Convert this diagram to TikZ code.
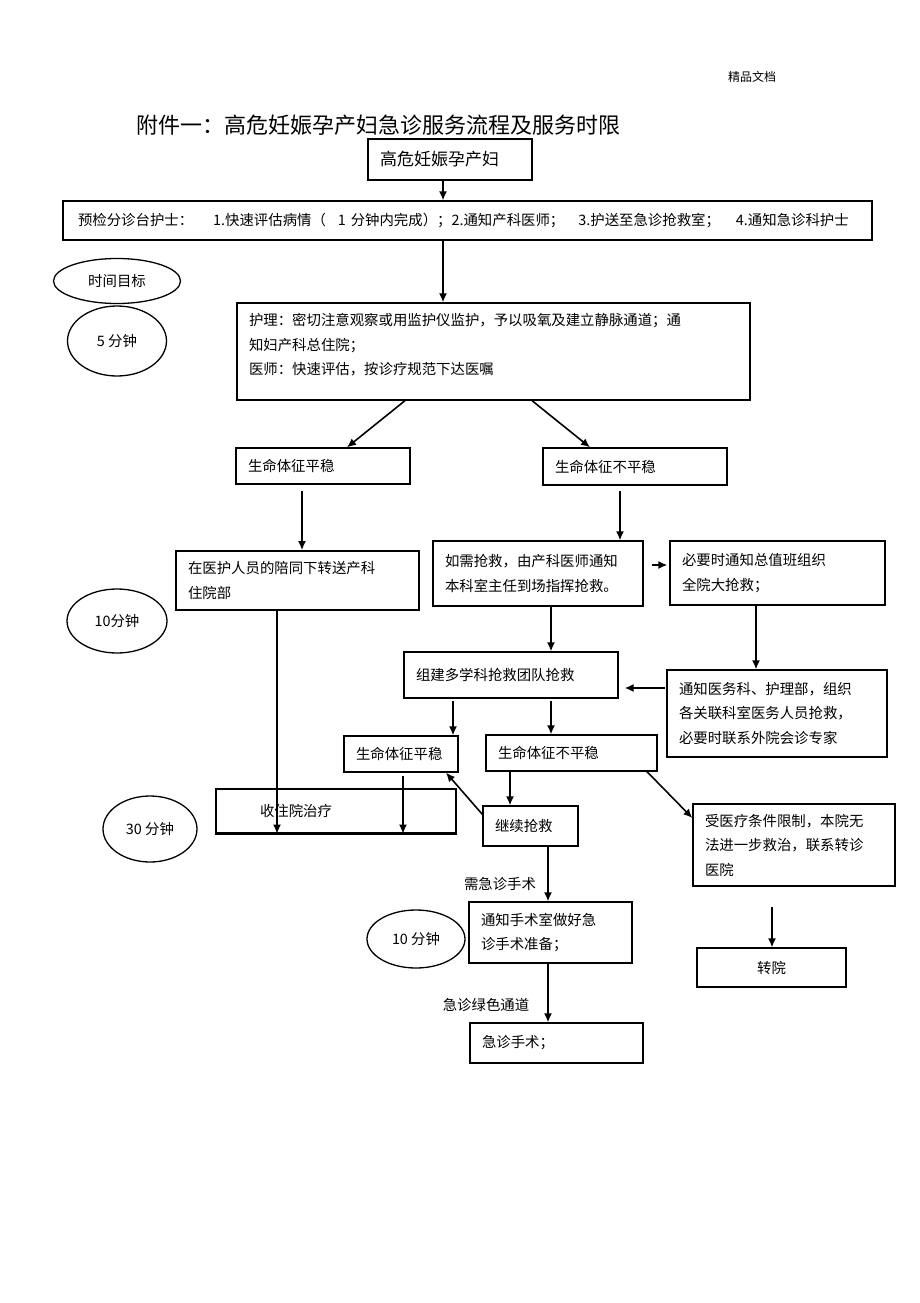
\documentclass[tikz,border=0pt]{standalone}
\usepackage{fontspec}
\setmainfont{Noto Sans CJK SC}
\usetikzlibrary{shapes.geometric,arrows.meta}
\newcommand{\bodysize}{\fontsize{14.4}{24.5}\selectfont}

\begin{document}
\begin{tikzpicture}[x=1pt, y=-1pt,
  every node/.style={font=\bodysize},
  box/.style={draw, line width=1.3pt, align=left, inner xsep=12pt, inner ysep=0pt},
  oval/.style={draw, ellipse, line width=1.3pt, inner sep=0pt},
  arr/.style={-{Latex[length=9pt,width=8pt]}, line width=1.6pt}]
  \useasboundingbox (0,0) rectangle (920,1303);

  \node[font=\fontsize{12}{14}\selectfont] (mark) at (752,77) {精品文档};
  \node[anchor=west, inner sep=0pt, font=\fontsize{22}{26}\selectfont] (title) at (136,125)
    {附件一：高危妊娠孕产妇急诊服务流程及服务时限};

  \node[box, font=\fontsize{17}{20}\selectfont, text width=140pt, minimum height=41pt] (women) at (450,159.5) {高危妊娠孕产妇};
  \node[box, text width=785pt, minimum height=39pt] (triage) at (467.5,220.5)
    {\hspace*{3pt}预检分诊台护士：\hspace{20pt}1.快速评估病情（\hspace{12pt}1 分钟内完成）；2.通知产科医师；\hspace{14pt}3.护送至急诊抢救室；\hspace{16pt}4.通知急诊科护士};
  \node[box, text width=489pt, minimum height=97pt] (care) at (493.5,351.5)
    {护理：密切注意观察或用监护仪监护，予以吸氧及建立静脉通道；通\\知妇产科总住院；\\医师：快速评估，按诊疗规范下达医嘱\\[-10pt]\mbox{}};

  \node[oval, minimum width=127pt, minimum height=45pt] (goal) at (117,281) {时间目标};
  \node[oval, minimum width=99pt, minimum height=70pt] (t5) at (117,341) {5 分钟};
  \node[oval, minimum width=100pt, minimum height=64pt] (t10a) at (117,621) {10分钟};
  \node[oval, minimum width=94pt, minimum height=66pt] (t30) at (150,829) {30 分钟};
  \node[oval, minimum width=98pt, minimum height=58pt] (t10b) at (416,939) {10 分钟};

  \node[box, text width=150pt, minimum height=36pt] (stableA) at (323,466) {生命体征平稳};
  \node[box, text width=160pt, minimum height=37pt] (unstableA) at (635,466.5) {生命体征不平稳};
  \node[box, line width=1.8pt, text width=219pt, minimum height=59pt] (transfer) at (297.5,580.5)
    {在医护人员的陪同下转送产科\\住院部};
  \node[box, text width=186pt, minimum height=65pt] (rescue) at (538,573.5)
    {如需抢救，由产科医师通知\\本科室主任到场指挥抢救。};
  \node[box, text width=191pt, minimum height=64pt] (hospital) at (777.5,573)
    {必要时通知总值班组织\\全院大抢救；};
  \node[box, text width=190pt, minimum height=46pt] (team) at (511,675) {组建多学科抢救团队抢救};
  \node[box, text width=196pt, minimum height=87pt] (notify) at (777,713.5)
    {通知医务科、护理部，组织\\各关联科室医务人员抢救，\\必要时联系外院会诊专家};
  \node[box, text width=90pt, minimum height=36pt] (stableB) at (401,754) {生命体征平稳};
  \node[box, text width=147pt, minimum height=36pt] (unstableB) at (571.5,753) {生命体征不平稳};
  \node[box, text width=216pt, minimum height=44pt] (admit) at (336,811) {\hspace*{32pt}收住院治疗};
  \node[box, text width=71pt, minimum height=40pt] (goon) at (530.5,826) {继续抢救};
  \node[box, text width=178pt, minimum height=82pt] (limit) at (794,845)
    {受医疗条件限制，本院无\\法进一步救治，联系转诊\\医院};
  \node[box, text width=139pt, minimum height=61pt] (prep) at (550.5,932.5)
    {通知手术室做好急\\诊手术准备；};
  \node[box, text width=149pt, minimum height=40pt] (surgery) at (556.5,1043) {急诊手术；};
  \node[box, align=center, text width=125pt, minimum height=39pt] (transout) at (771.5,967.5) {转院};

  \node (needop) at (500,884) {需急诊手术};
  \node (green) at (486,1005) {急诊绿色通道};

  \draw[line width=2.4pt] (admit.south west) -- (admit.south east);

  \draw[arr] (443,0 |- women.south) -- (443,0 |- triage.north);
  \draw[arr] (443,0 |- triage.south) -- (443,0 |- care.north);
  \draw[arr] (405,0 |- care.south) -- (347,0 |- stableA.north);
  \draw[arr] (532,0 |- care.south) -- (590,0 |- unstableA.north);
  \draw[arr, shorten <=6pt] (302,0 |- stableA.south) -- (302,0 |- transfer.north);
  \draw[arr, shorten <=5pt] (620,0 |- unstableA.south) -- (620,0 |- rescue.north);
  \draw[arr, shorten <=8pt, shorten >=2pt] (rescue.east |- 0,565) -- (hospital.west |- 0,565);
  \draw[arr] (277,0 |- transfer.south) -- (277,0 |- admit.south);
  \draw[arr] (551,0 |- rescue.south) -- (551,0 |- team.north);
  \draw[arr] (756,0 |- hospital.south) -- (756,0 |- notify.north);
  \draw[arr, shorten <=1pt, shorten >=6pt] (notify.west |- 0,688) -- (team.east |- 0,688);
  \draw[arr, shorten <=2pt] (453,0 |- team.south) -- (453,0 |- stableB.north);
  \draw[arr, shorten <=2pt] (551,0 |- team.south) -- (551,0 |- unstableB.north);
  \draw[arr, shorten <=3pt] (403,0 |- stableB.south) -- (403,0 |- admit.south);
  \draw[arr] ([yshift=-9pt]goon.north west) -- (446,0 |- stableB.south);
  \draw[arr] (510,0 |- unstableB.south) -- (510,0 |- goon.north);
  \draw[arr] (647,0 |- unstableB.south) -- (limit.west |- 0,818);
  \draw[arr] (548,0 |- goon.south) -- (548,0 |- prep.north);
  \draw[arr] (548,0 |- prep.south) -- (548,0 |- surgery.north);
  \draw[arr, shorten <=20pt] (772,0 |- limit.south) -- (772,0 |- transout.north);
\end{tikzpicture}
\end{document}
